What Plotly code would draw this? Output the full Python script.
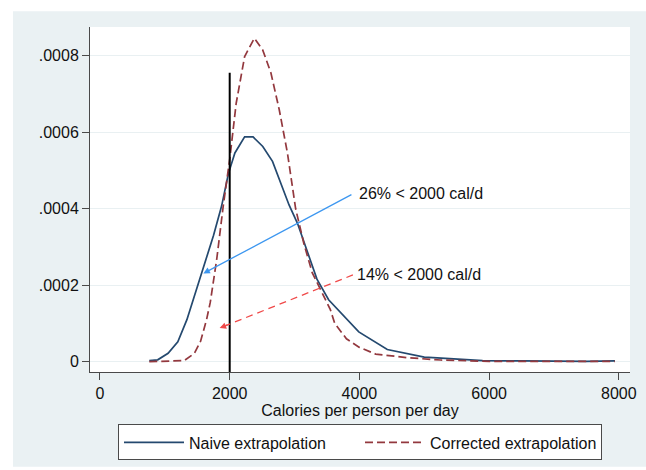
import plotly.graph_objects as go

# ---------------- data ----------------
naive_x = [760, 890, 1050, 1200, 1340, 1470, 1600, 1750, 1875, 1980, 2080, 2230, 2360,
           2510, 2660, 2790, 2915, 3045, 3195, 3345, 3525, 3730, 3990, 4430, 5000, 5200,
           5400, 5900, 6500, 7000, 7500, 7940]
naive_y = [0.000003, 0.000005, 0.000022, 0.000052, 0.00011, 0.00018, 0.00025, 0.00033,
           0.000407, 0.000492, 0.000546, 0.000588, 0.000588, 0.000563, 0.000524, 0.000468,
           0.000410, 0.000362, 0.000288, 0.000216, 0.000162, 0.000125, 0.000078, 0.000032,
           0.000012, 0.000010, 0.000008, 0.000003, 0.000002, 0.000001, 0.000001, 0.000002]

corr_x = [760, 1300, 1455, 1550, 1643, 1700, 1800, 1900, 2000, 2100, 2230, 2380, 2510,
          2636, 2764, 2890, 3017, 3145, 3272, 3400, 3550, 3620, 3800, 4000, 4250, 4750,
          5250, 6000, 7000, 7940]
corr_y = [0.0, 0.000003, 0.000022, 0.000053, 0.00011, 0.000155, 0.000268, 0.000407,
          0.000529, 0.000676, 0.000798, 0.000846, 0.000815, 0.000755, 0.000659, 0.000546,
          0.000400, 0.000308, 0.000233, 0.00019, 0.000137, 0.0001, 0.00006, 0.0000375,
          0.00002, 0.0000104, 0.0000045, 0.000001, 0.0, 0.000001]

series_names = ["Naive extrapolation", "Corrected extrapolation"]

cutoff_x = 2000
cutoff_top = 0.000756

x_tickvals = [0, 2000, 4000, 6000, 8000]
x_ticktext = ["0", "2000", "4000", "6000", "8000"]
y_tickvals = [0, 0.0002, 0.0004, 0.0006, 0.0008]
y_ticktext = ["0", ".0002", ".0004", ".0006", ".0008"]

x_range = [-154, 8172]
y_range = [-0.0000269, 0.0008754]

labels = ["26% < 2000 cal/d", "14% < 2000 cal/d"]
label_x = [3960, 3930]
label_y = [0.000439, 0.000227]
arrow_head_x = [1594, 1845]
arrow_head_y = [0.000231, 0.0000880]

x_title = "Calories per person per day"

# ---------------- style ----------------
FONT = "Liberation Sans, Arial, Helvetica, sans-serif"
NAVY = "#24496f"
MAROON = "#93383e"
BG = "#eaf1f3"
GRID = "#e9f0f2"
AXIS = "#4a4a4a"
FS = 16

fig = go.Figure()

fig.add_trace(go.Scatter(x=naive_x, y=naive_y, mode="lines", name=series_names[0],
                         line=dict(color=NAVY, width=1.7)))
fig.add_trace(go.Scatter(x=corr_x, y=corr_y, mode="lines", name=series_names[1],
                         line=dict(color=MAROON, width=1.7, dash="8px,4px")))
fig.add_trace(go.Scatter(x=[cutoff_x, cutoff_x], y=[y_range[0], cutoff_top], mode="lines",
                         line=dict(color="black", width=2), showlegend=False,
                         hoverinfo="skip"))

# red dashed arrow shaft
fig.add_trace(go.Scatter(x=[label_x[1] - 30, arrow_head_x[1]],
                         y=[label_y[1], arrow_head_y[1]], mode="lines",
                         line=dict(color="#f04a4a", width=1.3, dash="7px,5px"),
                         showlegend=False, hoverinfo="skip"))

# blue arrow
fig.add_annotation(x=arrow_head_x[0], y=arrow_head_y[0], ax=label_x[0] - 60, ay=label_y[0],
                   axref="x", ayref="y", xref="x", yref="y", text="", showarrow=True,
                   arrowhead=2, arrowsize=1.0, arrowwidth=1.3, arrowcolor="#3d97f0")
# red arrow head (short segment along the dashed shaft)
fig.add_annotation(x=arrow_head_x[1], y=arrow_head_y[1], ax=9.3, ay=-3.7,
                   xref="x", yref="y", text="", showarrow=True,
                   arrowhead=2, arrowsize=1.0, arrowwidth=1.3, arrowcolor="#f04a4a")

for t, lx, ly in zip(labels, label_x, label_y):
    fig.add_annotation(x=lx, y=ly, text=t, showarrow=False, xanchor="left",
                       yanchor="middle", font=dict(size=FS, color="#111", family=FONT))

# white strips around the light outer background (top, left, bottom)
for (x0, x1, y0, y1) in [(-0.2, 1.1, 1.046, 1.2), (-0.2, -0.1426, -0.4, 1.2),
                         (-0.2, 1.1, -0.4, -0.2746)]:
    fig.add_shape(type="rect", xref="paper", yref="paper", x0=x0, x1=x1, y0=y0, y1=y1,
                  fillcolor="white", line=dict(width=0), layer="above")

fig.update_layout(
    width=646, height=470,
    margin=dict(l=90, r=9, t=27, b=97),
    paper_bgcolor=BG, plot_bgcolor="white",
    font=dict(family=FONT, size=FS, color="#111"),
    showlegend=True,
    legend=dict(orientation="h", x=0.5, xanchor="center", y=-0.152, yanchor="top",
                bgcolor="white", bordercolor=AXIS, borderwidth=1,
                itemwidth=60, entrywidth=166, entrywidthmode="pixels",
                font=dict(size=FS, family=FONT, color="#111"), traceorder="normal"),
    xaxis=dict(range=x_range, tickvals=x_tickvals, ticktext=x_ticktext,
               showgrid=False, zeroline=False, showline=True, linecolor=AXIS,
               linewidth=1, ticks="outside", ticklen=7, tickcolor=AXIS,
               tickfont=dict(size=FS), title=dict(text=x_title, standoff=3,
                                                  font=dict(size=FS))),
    yaxis=dict(range=y_range, tickvals=y_tickvals, ticktext=y_ticktext,
               showgrid=True, gridcolor=GRID, gridwidth=1.3, zeroline=False,
               showline=True, linecolor=AXIS, linewidth=1, ticks="outside",
               ticklen=7, tickcolor=AXIS, tickfont=dict(size=FS)),
)

fig.write_html("out.html", config={"displayModeBar": False},
               post_script="document.body.style.margin='0';document.body.style.overflow='hidden';")
